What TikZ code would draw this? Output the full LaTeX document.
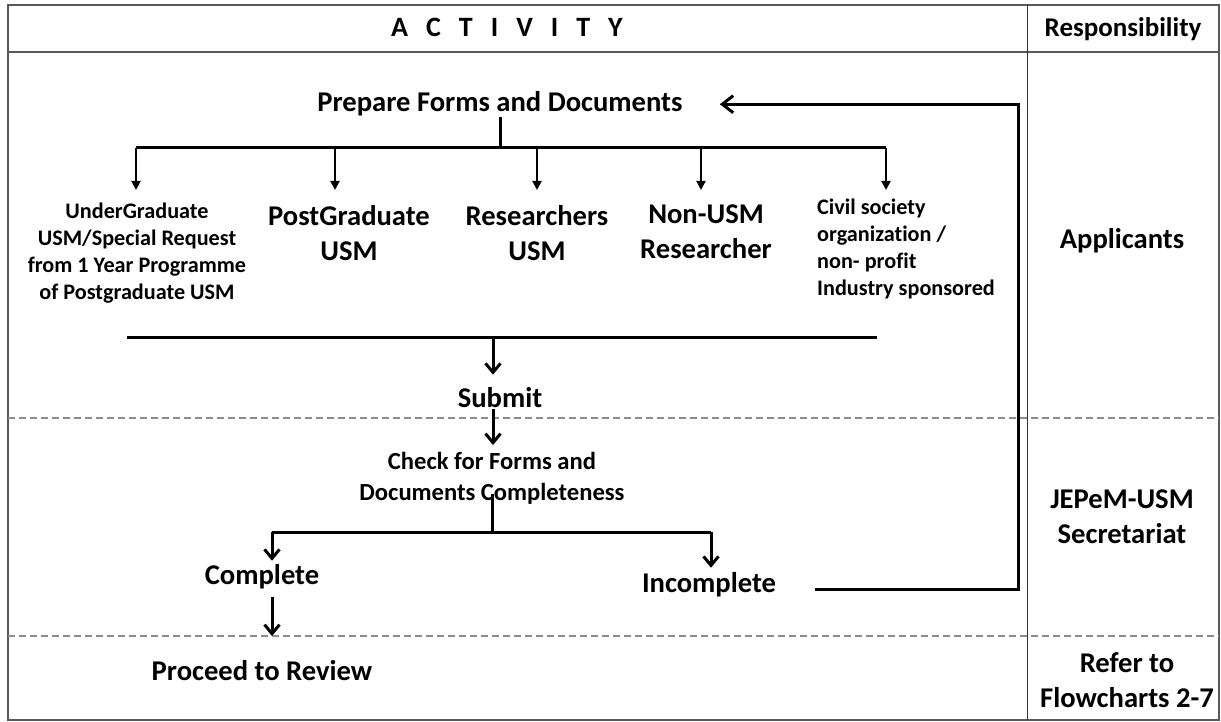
\documentclass[tikz,border=0pt]{standalone}
\usepackage{fontspec}
\setmainfont{Carlito}[Ligatures=NoCommon]
\usetikzlibrary{arrows.meta}
\newcommand\actgap{\hspace{18pt}}

\begin{document}
\begin{tikzpicture}[x=1pt,y=-1pt,
  txt/.style={inner sep=0pt,align=center,font=\bfseries\fontsize{28.6}{35}\selectfont},
  small/.style={inner sep=0pt,align=center,font=\bfseries\fontsize{22.2}{27}\selectfont},
  mid/.style={inner sep=0pt,align=center,font=\bfseries\fontsize{24.6}{31.5}\selectfont},
  frame/.style={draw=black!65,line width=1.5pt},
  lane/.style={draw=black!45,line width=1.3pt,dash pattern=on 7pt off 4pt},
  line/.style={line width=3pt},
  arr/.style={line width=3pt,-{Straight Barb[length=9pt,width=15pt]}},
  tip/.style={line width=2pt,-{Triangle[length=9pt,width=9pt]}}]
\useasboundingbox (0,0) rectangle (1221,722);
\fill[white] (0,0) rectangle (1221,722);

\draw[frame] (8,5) rectangle (1219,720);
\draw[frame] (8,52) -- (1219,52);
\draw[draw=black!80,line width=1pt] (1027,5) -- (1027,720);
\coordinate (d1l) at (8,418);
\coordinate (d1r) at (1219,418);
\coordinate (d2l) at (8,636);
\coordinate (d2r) at (1219,636);
\draw[lane] (d1l) -- (d1r);
\draw[lane] (d2l) -- (d2r);

\node[txt,anchor=base,font=\bfseries\fontsize{28}{30}\selectfont] (act) at (507,37)
  {A\actgap C\actgap T\actgap I\actgap V\actgap I\actgap T\actgap Y};
\node[txt,anchor=base,font=\bfseries\fontsize{27}{30}\selectfont] (resp) at (1123,37) {Responsibility};

\node[txt,anchor=base] (prep) at (500,112) {Prepare Forms and Documents};
\node[small,anchor=north] (ug) at (137,203)
  {UnderGraduate\\USM/Special Request\\from 1 Year Programme\\of Postgraduate USM};
\node[txt,anchor=north] (pg) at (349,205) {PostGraduate\\USM};
\node[txt,anchor=north] (rs) at (537,205) {Researchers\\USM};
\node[txt,anchor=north] (nu) at (706,205) {Non-USM\\Researcher};
\node[small,anchor=north west,align=left] (cs) at (817,199)
  {Civil society\\organization /\\non- profit\\Industry sponsored};
\node[txt,anchor=base] (submit) at (500,407) {Submit};
\node[mid,anchor=north] (check) at (492,452) {Check for Forms and\\Documents Completeness};
\node[txt,anchor=base] (comp) at (262,584) {Complete};
\node[txt,anchor=base] (incomp) at (709,592) {Incomplete};
\node[txt,anchor=base] (review) at (262,680) {Proceed to Review};

\node[txt,anchor=base] (appl) at (1122,248) {Applicants};
\node[txt,anchor=north] (jepem) at (1122,490) {JEPeM-USM\\Secretariat};
\node[txt,anchor=north] (refer) at (1127,652) {Refer to\\Flowcharts 2-7};

\coordinate (split) at (500,148);
\foreach \x [count=\i] in {136,335,537,701,886}
  \coordinate (b\i) at (\x,148);
\draw[line] (prep.south) -- (split);
\draw[line] (b1) -- (b5);
\foreach \b/\n/\s in {b1/ug/13,b2/pg/15,b3/rs/15,b4/nu/15,b5/cs/9}
  \draw[tip,shorten >=\s pt] (\b) -- (\b |- \n.north);

\coordinate (m1) at (127,337);
\coordinate (m2) at (877,337);
\coordinate (mc) at (493,337);
\draw[line] (m1) -- (m2);
\draw[arr,shorten >=12pt] (mc) -- (mc |- submit.north);
\draw[arr,shorten <=2pt,shorten >=7pt] (submit.south -| mc) -- (mc |- check.north);

\coordinate (j2) at (492,532);
\coordinate (jl) at (272,532);
\coordinate (jr) at (711,532);
\draw[line] ([yshift=11pt]check.south) -- (j2);
\draw[line] (jl) -- (jr);
\draw[arr,shorten >=3pt] (jl) -- (jl |- comp.north);
\draw[arr,shorten >=4pt] (jr) -- (jr |- incomp.north);
\draw[arr,shorten <=8pt] (comp.south -| jl) -- (jl |- d2l);

\coordinate (rc) at (1018,589);
\draw[line,-{Straight Barb[length=11pt,width=17pt]},shorten <=39pt,shorten >=37pt]
  (rc -| incomp.east) -- (rc) |- (prep.east);
\end{tikzpicture}
\end{document}
